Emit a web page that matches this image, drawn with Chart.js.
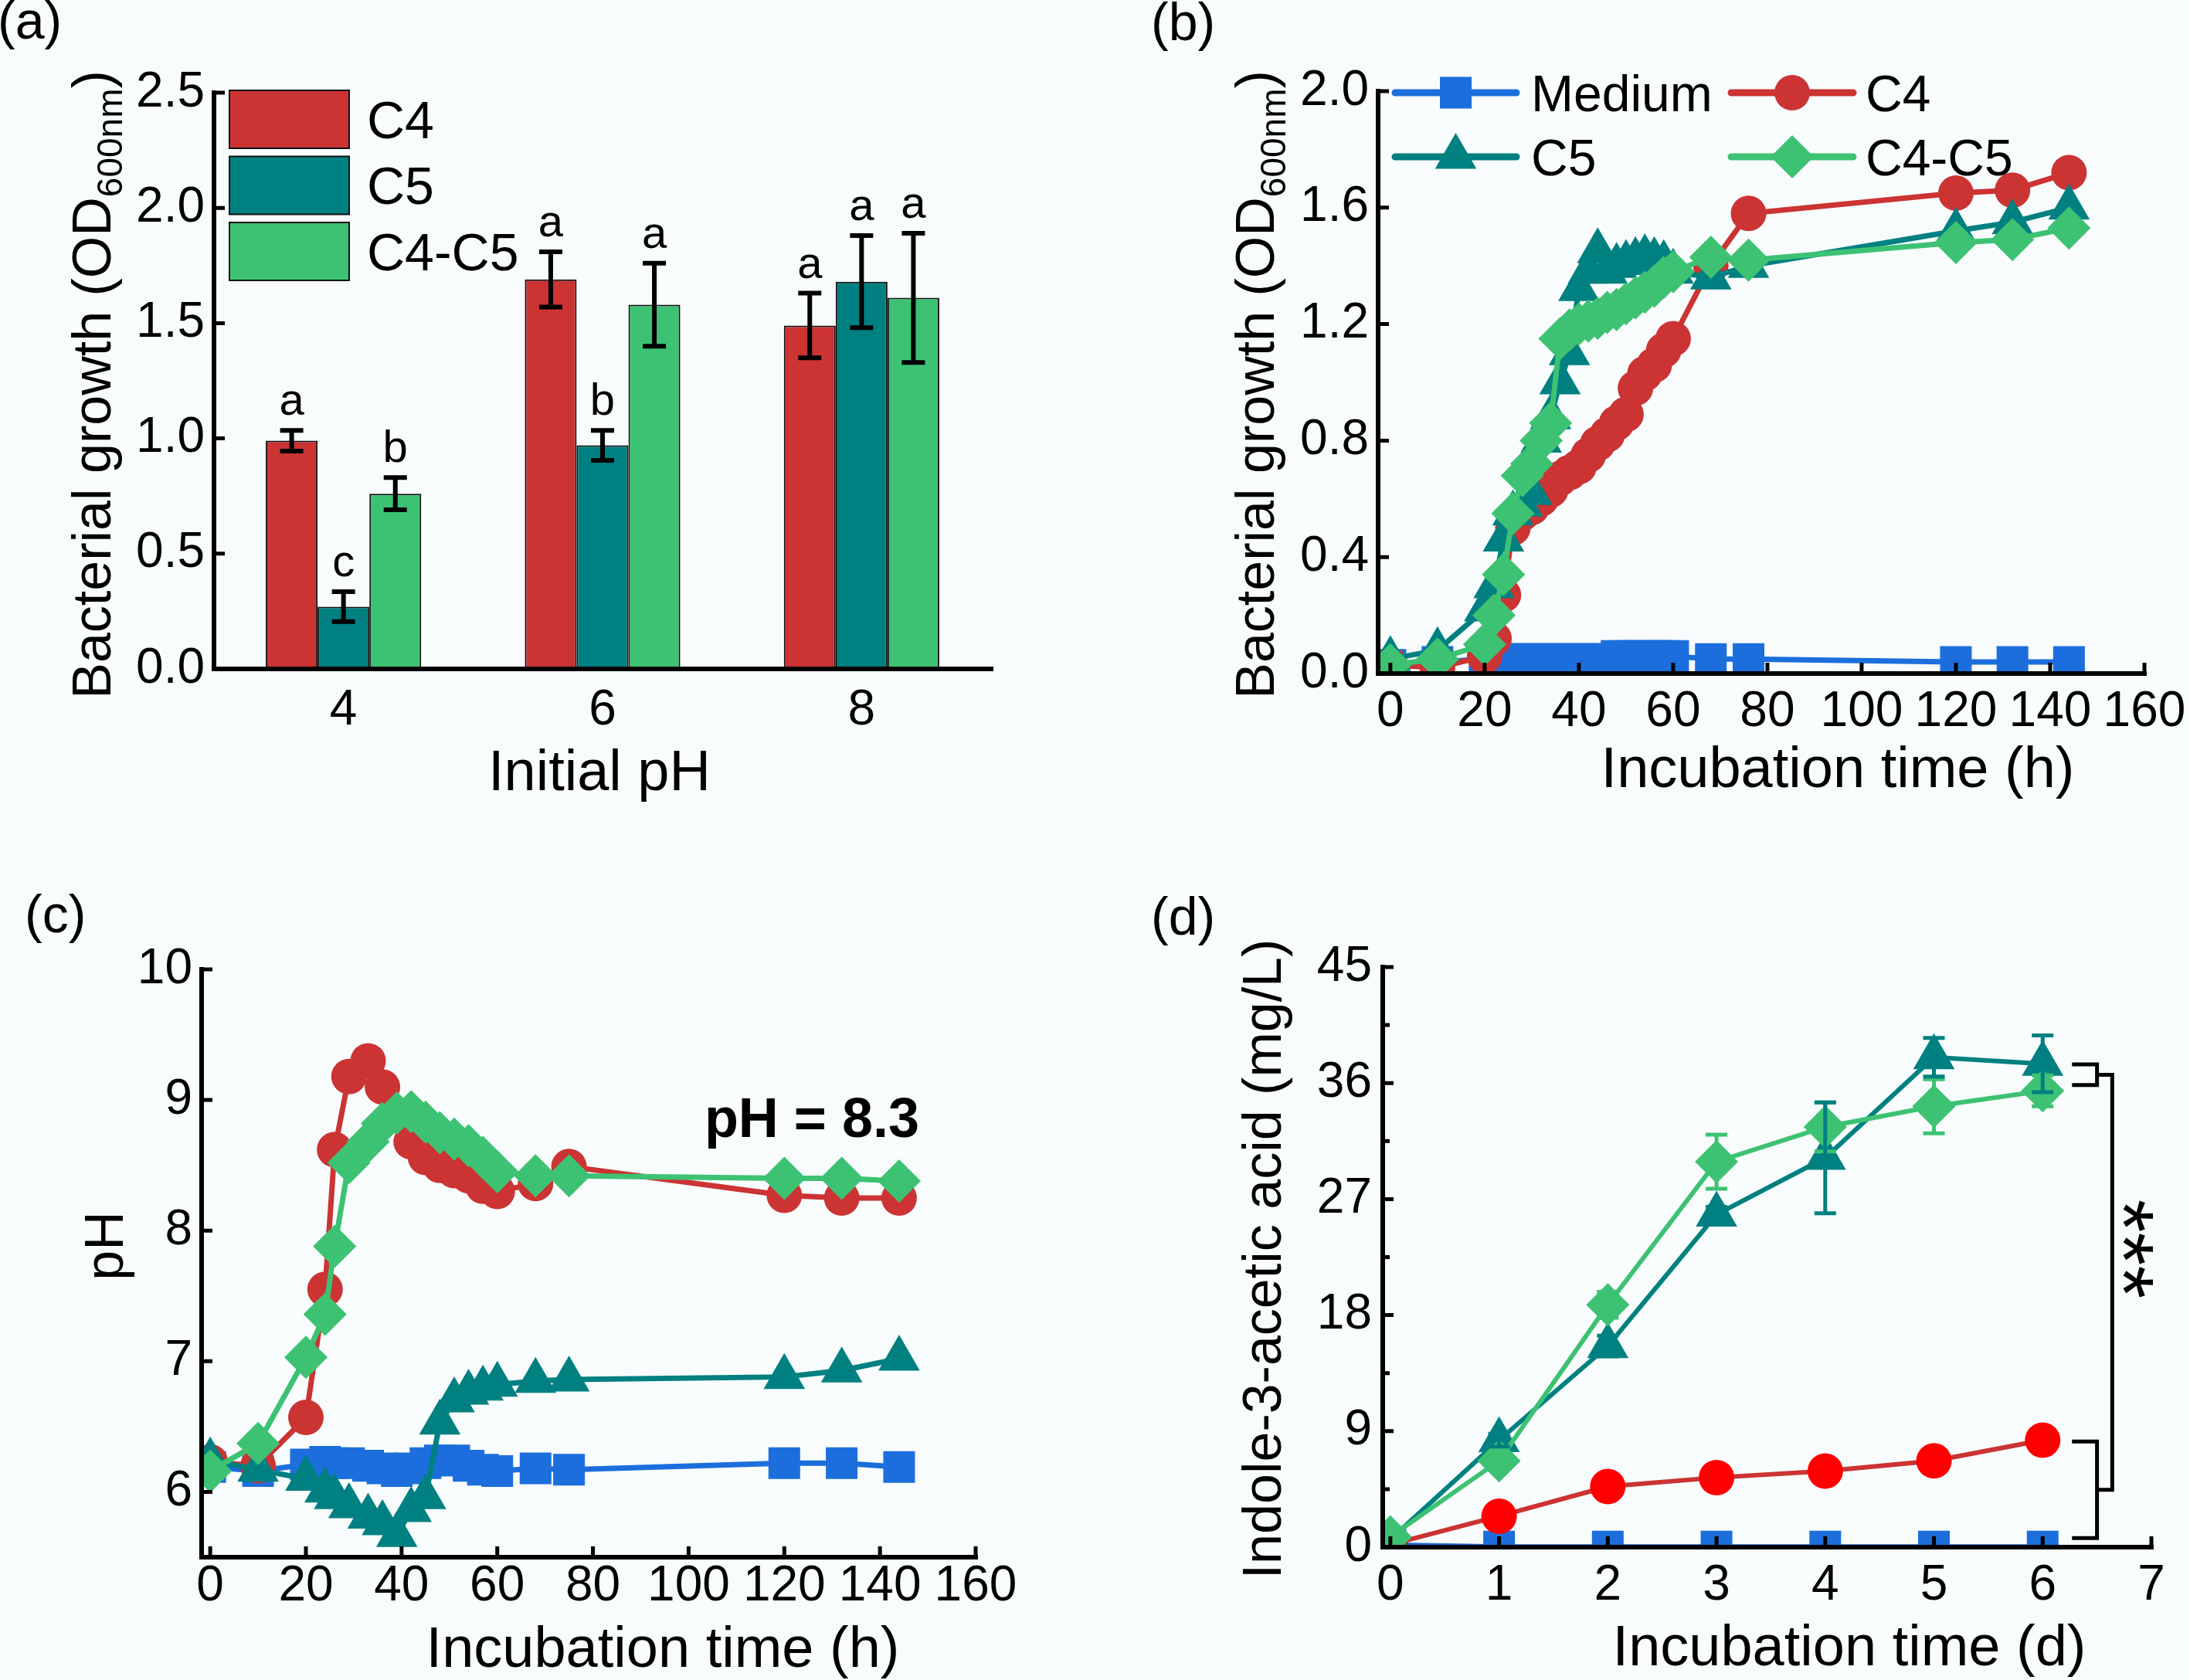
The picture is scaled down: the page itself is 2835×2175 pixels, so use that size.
<!DOCTYPE html>
<html>
<head>
<meta charset="utf-8">
<script src="https://cdn.jsdelivr.net/npm/chart.js@4.4.1/dist/chart.umd.min.js"></script>
<style>
html, body { margin:0; padding:0; background:#F8FCFD; }
#wrap { position:relative; width:2835px; height:2175px; overflow:hidden; background:#F8FCFD; }
#wrap canvas { position:absolute; left:0; top:0; }
</style>
</head>
<body>
<div id="wrap">
<canvas id="cA" width="3035" height="2175"></canvas>
<canvas id="cB" width="3035" height="2175"></canvas>
<canvas id="cC" width="3035" height="2175"></canvas>
<canvas id="cD" width="3035" height="2175"></canvas>
</div>
<script>
// ---------------- DATA ----------------
// (a) bacterial growth vs initial pH
const PH_CATEGORIES = ['4', '6', '8'];
const A_C4      = [0.99, 1.69, 1.49];
const A_C4_ERR  = [0.045, 0.12, 0.14];
const A_C4_SIG  = ['a', 'a', 'a'];
const A_C5      = [0.27, 0.97, 1.68];
const A_C5_ERR  = [0.065, 0.065, 0.20];
const A_C5_SIG  = ['c', 'b', 'a'];
const A_MIX     = [0.76, 1.58, 1.61];
const A_MIX_ERR = [0.07, 0.18, 0.28];
const A_MIX_SIG = ['b', 'a', 'a'];
const A_Y_TICKS = [0, 0.5, 1.0, 1.5, 2.0, 2.5];

// (b) growth curves (OD600)
const B_TIME   = [0, 10, 20, 22, 24, 26, 28, 30, 32, 34, 36, 38, 40, 42, 44, 46, 48, 50, 52, 54, 56, 58, 60, 68, 76, 120, 132, 144];
const B_MEDIUM = [0.03, 0.04, 0.05, 0.05, 0.05, 0.05, 0.05, 0.05, 0.05, 0.05, 0.05, 0.05, 0.05, 0.05, 0.05, 0.05, 0.06, 0.06, 0.06, 0.06, 0.06, 0.06, 0.06, 0.05, 0.05, 0.04, 0.04, 0.04];
const B_C4     = [0.03, 0.02, 0.06, 0.12, 0.27, 0.50, 0.55, 0.57, 0.60, 0.63, 0.67, 0.69, 0.71, 0.75, 0.79, 0.82, 0.86, 0.89, 0.98, 1.03, 1.06, 1.11, 1.15, 1.40, 1.58, 1.65, 1.66, 1.72];
const B_C5     = [0.05, 0.08, 0.22, 0.30, 0.46, 0.55, 0.58, 0.62, 0.80, 0.88, 1.00, 1.10, 1.32, 1.38, 1.45, 1.38, 1.40, 1.41, 1.42, 1.43, 1.42, 1.41, 1.38, 1.36, 1.40, 1.52, 1.55, 1.60];
const B_MIX    = [0.03, 0.05, 0.10, 0.20, 0.34, 0.55, 0.68, 0.72, 0.80, 0.86, 1.15, 1.18, 1.20, 1.21, 1.22, 1.24, 1.25, 1.27, 1.29, 1.31, 1.33, 1.36, 1.38, 1.43, 1.42, 1.48, 1.49, 1.53];
const B_X_TICKS = [0, 20, 40, 60, 80, 100, 120, 140, 160];
const B_Y_TICKS = [0, 0.4, 0.8, 1.2, 1.6, 2.0];

// (c) pH curves
const C_TIME   = [0, 10, 20, 24, 26, 29, 33, 36, 39, 42, 45, 48, 51, 54, 57, 60, 68, 75, 120, 132, 144];
const C_MEDIUM = [6.19, 6.16, 6.21, 6.23, 6.22, 6.22, 6.20, 6.18, 6.16, 6.18, 6.22, 6.24, 6.24, 6.20, 6.17, 6.16, 6.18, 6.17, 6.22, 6.22, 6.19];
const C_C4     = [6.23, 6.20, 6.57, 7.55, 8.62, 9.18, 9.30, 9.10, 8.88, 8.68, 8.56, 8.50, 8.46, 8.42, 8.34, 8.30, 8.36, 8.49, 8.27, 8.25, 8.25];
const C_C5     = [6.24, 6.17, 6.10, 6.01, 5.96, 5.89, 5.81, 5.76, 5.67, 5.86, 5.96, 6.53, 6.70, 6.76, 6.79, 6.82, 6.85, 6.86, 6.88, 6.93, 7.02];
const C_MIX    = [6.16, 6.37, 7.03, 7.36, 7.88, 8.52, 8.68, 8.82, 8.90, 8.91, 8.83, 8.75, 8.70, 8.65, 8.56, 8.45, 8.42, 8.42, 8.40, 8.40, 8.38];
const C_X_TICKS = [0, 20, 40, 60, 80, 100, 120, 140, 160];
const C_Y_TICKS = [6, 7, 8, 9, 10];
const C_NOTE = 'pH = 8.3';

// (d) IAA production
const D_DAY      = [0, 1, 2, 3, 4, 5, 6];
const D_MEDIUM   = [0.2, 0.05, 0.05, 0.05, 0.05, 0.05, 0.05];
const D_C4       = [0.2, 2.4, 4.7, 5.4, 5.9, 6.7, 8.3];
const D_C5       = [0.6, 8.3, 15.6, 25.8, 30.2, 38.0, 37.5];
const D_C5_ERR   = [0, 0.5, 0.8, 0.6, 4.3, 1.5, 2.2];
const D_MIX      = [0.8, 6.7, 18.8, 29.9, 32.6, 34.2, 35.4];
const D_MIX_ERR  = [0, 0.5, 1.0, 2.1, 1.9, 2.1, 1.2];
const D_X_TICKS  = [0, 1, 2, 3, 4, 5, 6, 7];
const D_Y_TICKS  = [0, 9, 18, 27, 36, 45];
const D_Y_MINOR  = [4.5, 13.5, 22.5, 31.5, 40.5];
const D_BRACKET_X     = [6.27, 6.50, 6.64];
const D_BRACKET_UPPER = [37.45, 35.84];
const D_BRACKET_LOWER = [8.2, 0.7];
const D_SIG = '***';

const SERIES_LABELS = ['Medium', 'C4', 'C5', 'C4-C5'];

// ---------------- STYLE ----------------
const FONT = '"Liberation Sans", Arial, Helvetica, sans-serif';
Chart.defaults.font.family = FONT;
Chart.defaults.color = '#000';
const RED = '#CC3333', TEAL = '#008080', GREEN = '#3DC273', BLUE = '#1C6EDC', BRIGHT_RED = '#FF0000';
const CW = 3035, CH = 2175, YW = 140, XW = 140;
const TICK_FS = 64, TITLE_FS = 70, XTITLE_FS = 74, LEG_FS = 66;

const GEO = {
  a: {L: 277,  R: 1283, T: 120,  B: 866},
  b: {L: 1784, R: 2776, T: 118,  B: 872},
  c: {L: 261,  R: 1263, T: 1255, B: 2016},
  d: {L: 1790, R: 2785, T: 1252, B: 2003}
};
function pad(g) { return {left: g.L - YW, right: CW - g.R, top: g.T, bottom: CH - g.B - XW}; }
function pts(xs, ys) { return xs.map((x, i) => ({x: x, y: ys[i]})); }
function fixedTicks(arr) { return s => { s.ticks = arr.map(v => ({value: v})); }; }
function linScale(min, max, ticks, fmt, tpad, isX) {
  return {
    type: 'linear', min: min, max: max,
    grid: {display: false, drawTicks: false}, border: {display: false},
    ticks: {font: {size: TICK_FS}, padding: tpad, maxRotation: 0, minRotation: 0, autoSkip: false, callback: fmt},
    afterBuildTicks: fixedTicks(ticks),
    afterFit: isX ? (s => { s.height = XW; }) : (s => { s.width = YW; })
  };
}
const fmt1 = v => Number(v).toFixed(1);
const fmt0 = v => String(v);

// ---------------- DRAW HELPERS ----------------
function drawAxes(chart, xTicks, yTicks, yMinor) {
  const ctx = chart.ctx, a = chart.chartArea, xs = chart.scales.x, ys = chart.scales.y;
  ctx.save();
  ctx.strokeStyle = '#000';
  ctx.lineWidth = 5;
  ctx.beginPath();
  (yTicks || []).forEach(v => { const y = ys.getPixelForValue(v); ctx.moveTo(a.left, y); ctx.lineTo(a.left + 14, y); });
  (yMinor || []).forEach(v => { const y = ys.getPixelForValue(v); ctx.moveTo(a.left, y); ctx.lineTo(a.left + 9, y); });
  (xTicks || []).forEach(v => { const x = xs.getPixelForValue(v); ctx.moveTo(x, a.bottom); ctx.lineTo(x, a.bottom - 14); });
  ctx.stroke();
  ctx.lineWidth = 6;
  ctx.lineCap = 'square';
  ctx.beginPath();
  ctx.moveTo(a.left, a.top); ctx.lineTo(a.left, a.bottom); ctx.lineTo(a.right, a.bottom);
  ctx.stroke();
  ctx.restore();
}
function text(ctx, s, x, y, fs, align, weight) {
  ctx.save();
  ctx.font = (weight || 'normal') + ' ' + fs + 'px ' + FONT;
  ctx.fillStyle = '#000';
  ctx.textAlign = align || 'left';
  ctx.textBaseline = 'alphabetic';
  ctx.fillText(s, x, y);
  ctx.restore();
}
function yTitle(ctx, x, yc, parts, fs) {
  ctx.save();
  ctx.translate(x, yc);
  ctx.rotate(-Math.PI / 2);
  ctx.fillStyle = '#000';
  ctx.textBaseline = 'alphabetic';
  ctx.textAlign = 'left';
  const fMain = fs + 'px ' + FONT, fSub = Math.round(fs * 0.66) + 'px ' + FONT;
  let total = 0;
  const widths = parts.map(p => { ctx.font = p.sub ? fSub : fMain; const w = ctx.measureText(p.t).width; total += w; return w; });
  let x0 = -total / 2;
  parts.forEach((p, i) => {
    ctx.font = p.sub ? fSub : fMain;
    ctx.fillText(p.t, x0, p.sub ? fs * 0.22 : 0);
    x0 += widths[i];
  });
  ctx.restore();
}
function errBars(chart, di, vals, errs, color, lw, cap) {
  const ctx = chart.ctx, meta = chart.getDatasetMeta(di), ys = chart.scales.y;
  ctx.save();
  ctx.strokeStyle = color;
  ctx.lineWidth = lw;
  ctx.beginPath();
  meta.data.forEach((el, j) => {
    const e = errs[j];
    if (!e) return;
    const v = vals[j];
    const x = el.x, y1 = ys.getPixelForValue(v + e), y2 = ys.getPixelForValue(v - e);
    ctx.moveTo(x, y1); ctx.lineTo(x, y2);
    ctx.moveTo(x - cap / 2, y1); ctx.lineTo(x + cap / 2, y1);
    ctx.moveTo(x - cap / 2, y2); ctx.lineTo(x + cap / 2, y2);
  });
  ctx.stroke();
  ctx.restore();
}
const OD_TITLE = [{t: 'Bacterial growth (OD'}, {t: '600nm', sub: true}, {t: ')'}];

function lineDs(label, xs, ys, color, style, r, lw, pointColor) {
  return {
    label: label, data: pts(xs, ys),
    borderColor: color, backgroundColor: pointColor || color,
    pointBackgroundColor: pointColor || color, pointBorderWidth: 0,
    pointStyle: style, pointRadius: r, pointHoverRadius: r,
    borderWidth: lw, tension: 0, fill: false, clip: 0
  };
}
const baseOpts = {responsive: false, animation: false, devicePixelRatio: 1, events: []};

// ---------------- (a) ----------------
new Chart(document.getElementById('cA'), {
  type: 'bar',
  data: {
    labels: PH_CATEGORIES,
    datasets: [
      {label: 'C4', data: A_C4, backgroundColor: RED, borderColor: '#111', borderWidth: 2, categoryPercentage: 0.6, barPercentage: 1.0},
      {label: 'C5', data: A_C5, backgroundColor: TEAL, borderColor: '#111', borderWidth: 2, categoryPercentage: 0.6, barPercentage: 1.0},
      {label: 'C4-C5', data: A_MIX, backgroundColor: GREEN, borderColor: '#111', borderWidth: 2, categoryPercentage: 0.6, barPercentage: 1.0}
    ]
  },
  options: Object.assign({}, baseOpts, {
    layout: {padding: pad(GEO.a)},
    plugins: {legend: {display: false}, tooltip: {enabled: false}},
    scales: {
      x: {type: 'category', grid: {display: false, drawTicks: false}, border: {display: false},
          ticks: {font: {size: TICK_FS}, padding: 16, maxRotation: 0, autoSkip: false},
          afterFit: s => { s.height = XW; }},
      y: linScale(0, 2.5, A_Y_TICKS, fmt1, 12, false)
    }
  }),
  plugins: [{
    id: 'decorA',
    afterDraw(chart) {
      const ctx = chart.ctx, ys = chart.scales.y;
      const vals = [A_C4, A_C5, A_MIX], errs = [A_C4_ERR, A_C5_ERR, A_MIX_ERR], sig = [A_C4_SIG, A_C5_SIG, A_MIX_SIG];
      vals.forEach((v, i) => errBars(chart, i, v, errs[i], '#000', 6, 30));
      vals.forEach((v, i) => {
        chart.getDatasetMeta(i).data.forEach((el, j) => {
          const yTop = ys.getPixelForValue(v[j] + errs[i][j]);
          text(ctx, sig[i][j], el.x, yTop - 20, 58, 'center');
        });
      });
      // legend
      const colors = [RED, TEAL, GREEN];
      chart.data.datasets.forEach((ds, i) => {
        const top = 117 + i * 85.5;
        ctx.save();
        ctx.fillStyle = colors[i];
        ctx.fillRect(297, top, 155, 75);
        ctx.strokeStyle = '#111'; ctx.lineWidth = 2;
        ctx.strokeRect(297, top, 155, 75);
        ctx.restore();
        text(ctx, ds.label, 475, top + 37.5 + 24, 68, 'left');
      });
      drawAxes(chart, null, A_Y_TICKS, null);
      yTitle(ctx, 143, 498, OD_TITLE, TITLE_FS);
      text(ctx, 'Initial pH', 776, 1023, XTITLE_FS, 'center');
      text(ctx, '(a)', -3, 50, 68, 'left');
    }
  }]
});

// ---------------- (b) ----------------
new Chart(document.getElementById('cB'), {
  type: 'line',
  data: {
    datasets: [
      lineDs(SERIES_LABELS[3], B_TIME, B_MIX, GREEN, 'rectRot', 28, 7),
      lineDs(SERIES_LABELS[2], B_TIME, B_C5, TEAL, 'triangle', 31, 7),
      lineDs(SERIES_LABELS[1], B_TIME, B_C4, RED, 'circle', 23, 7),
      lineDs(SERIES_LABELS[0], B_TIME, B_MEDIUM, BLUE, 'rect', 29, 7)
    ]
  },
  options: Object.assign({}, baseOpts, {
    layout: {padding: pad(GEO.b)},
    plugins: {legend: {display: false}, tooltip: {enabled: false}},
    scales: {
      x: linScale(-2.6, 160, B_X_TICKS, fmt0, 12, true),
      y: linScale(0, 2.0, B_Y_TICKS, fmt1, 12, false)
    }
  }),
  plugins: [{
    id: 'decorB',
    afterDraw(chart) {
      const ctx = chart.ctx;
      drawAxes(chart, B_X_TICKS, B_Y_TICKS, null);
      // legend (2 x 2)
      const items = [
        {label: SERIES_LABELS[0], color: BLUE, style: 'rect', r: 29, x1: 1806, x2: 1963, tx: 1982, y: 120},
        {label: SERIES_LABELS[1], color: RED, style: 'circle', r: 23, x1: 2241, x2: 2399, tx: 2415, y: 120},
        {label: SERIES_LABELS[2], color: TEAL, style: 'triangle', r: 31, x1: 1806, x2: 1963, tx: 1982, y: 203},
        {label: SERIES_LABELS[3], color: GREEN, style: 'rectRot', r: 28, x1: 2241, x2: 2399, tx: 2415, y: 203}
      ];
      items.forEach(it => {
        ctx.save();
        ctx.strokeStyle = it.color; ctx.lineWidth = 9; ctx.lineCap = 'round';
        ctx.beginPath(); ctx.moveTo(it.x1, it.y); ctx.lineTo(it.x2, it.y); ctx.stroke();
        ctx.fillStyle = it.color;
        Chart.helpers.drawPoint(ctx, {pointStyle: it.style, radius: it.r, borderWidth: 0, rotation: 0}, (it.x1 + it.x2) / 2, it.y);
        ctx.restore();
        text(ctx, it.label, it.tx, it.y + 24, LEG_FS, 'left');
      });
      yTitle(ctx, 1649, 498, OD_TITLE, TITLE_FS);
      text(ctx, 'Incubation time (h)', 2379, 1019, XTITLE_FS, 'center');
      text(ctx, '(b)', 1490, 52, 68, 'left');
    }
  }]
});

// ---------------- (c) ----------------
new Chart(document.getElementById('cC'), {
  type: 'line',
  data: {
    datasets: [
      lineDs(SERIES_LABELS[3], C_TIME, C_MIX, GREEN, 'rectRot', 28, 7),
      lineDs(SERIES_LABELS[2], C_TIME, C_C5, TEAL, 'triangle', 31, 7),
      lineDs(SERIES_LABELS[1], C_TIME, C_C4, RED, 'circle', 23, 7),
      lineDs(SERIES_LABELS[0], C_TIME, C_MEDIUM, BLUE, 'rect', 29, 7)
    ]
  },
  options: Object.assign({}, baseOpts, {
    layout: {padding: pad(GEO.c)},
    plugins: {legend: {display: false}, tooltip: {enabled: false}},
    scales: {
      x: linScale(-1.8, 160, C_X_TICKS, fmt0, 0, true),
      y: linScale(5.5, 10, C_Y_TICKS, fmt0, 12, false)
    }
  }),
  plugins: [{
    id: 'decorC',
    afterDraw(chart) {
      const ctx = chart.ctx;
      drawAxes(chart, C_X_TICKS, C_Y_TICKS, null);
      text(ctx, C_NOTE, 1190, 1472, 72, 'right', 'bold');
      yTitle(ctx, 159, 1613, [{t: 'pH'}], TITLE_FS);
      text(ctx, 'Incubation time (h)', 858, 2158, XTITLE_FS, 'center');
      text(ctx, '(c)', 32, 1207, 68, 'left');
    }
  }]
});

// ---------------- (d) ----------------
new Chart(document.getElementById('cD'), {
  type: 'line',
  data: {
    datasets: [
      lineDs(SERIES_LABELS[3], D_DAY, D_MIX, GREEN, 'rectRot', 28, 6),
      lineDs(SERIES_LABELS[2], D_DAY, D_C5, TEAL, 'triangle', 31, 6),
      lineDs(SERIES_LABELS[1], D_DAY, D_C4, RED, 'circle', 23, 6, BRIGHT_RED),
      lineDs(SERIES_LABELS[0], D_DAY, D_MEDIUM, BLUE, 'rect', 29, 6)
    ]
  },
  options: Object.assign({}, baseOpts, {
    layout: {padding: pad(GEO.d)},
    plugins: {legend: {display: false}, tooltip: {enabled: false}},
    scales: {
      x: linScale(-0.07, 7, D_X_TICKS, fmt0, 12, true),
      y: linScale(0, 45, D_Y_TICKS, fmt0, 14, false)
    }
  }),
  plugins: [{
    id: 'decorD',
    afterDraw(chart) {
      const ctx = chart.ctx, xs = chart.scales.x, ys = chart.scales.y;
      errBars(chart, 0, D_MIX, D_MIX_ERR, GREEN, 5, 28);
      errBars(chart, 1, D_C5, D_C5_ERR, TEAL, 5, 28);
      // significance brackets
      const X = v => xs.getPixelForValue(v), Y = v => ys.getPixelForValue(v);
      const [xa, xb, xc] = D_BRACKET_X;
      const upMid = (D_BRACKET_UPPER[0] + D_BRACKET_UPPER[1]) / 2;
      const loMid = (D_BRACKET_LOWER[0] + D_BRACKET_LOWER[1]) / 2;
      ctx.save();
      ctx.strokeStyle = '#000'; ctx.lineWidth = 5; ctx.lineJoin = 'miter';
      ctx.beginPath();
      ctx.moveTo(X(xa), Y(D_BRACKET_UPPER[0])); ctx.lineTo(X(xb), Y(D_BRACKET_UPPER[0]));
      ctx.lineTo(X(xb), Y(D_BRACKET_UPPER[1])); ctx.lineTo(X(xa), Y(D_BRACKET_UPPER[1]));
      ctx.moveTo(X(xa), Y(D_BRACKET_LOWER[0])); ctx.lineTo(X(xb), Y(D_BRACKET_LOWER[0]));
      ctx.lineTo(X(xb), Y(D_BRACKET_LOWER[1])); ctx.lineTo(X(xa), Y(D_BRACKET_LOWER[1]));
      ctx.moveTo(X(xb), Y(upMid)); ctx.lineTo(X(xc), Y(upMid)); ctx.lineTo(X(xc), Y(loMid)); ctx.lineTo(X(xb), Y(loMid));
      ctx.stroke();
      // ***
      ctx.translate(2776, 1617);
      ctx.rotate(Math.PI / 2);
      ctx.font = '110px ' + FONT;
      ctx.fillStyle = '#000';
      ctx.textAlign = 'center';
      ctx.textBaseline = 'alphabetic';
      ctx.fillText(D_SIG, 0, 110 * 0.58);
      ctx.restore();
      drawAxes(chart, D_X_TICKS, D_Y_TICKS, D_Y_MINOR);
      yTitle(ctx, 1658, 1630, [{t: 'Indole-3-acetic acid (mg/L)'}], TITLE_FS);
      text(ctx, 'Incubation time (d)', 2394, 2156, XTITLE_FS, 'center');
      text(ctx, '(d)', 1490, 1210, 68, 'left');
    }
  }]
});
</script>
</body>
</html>
